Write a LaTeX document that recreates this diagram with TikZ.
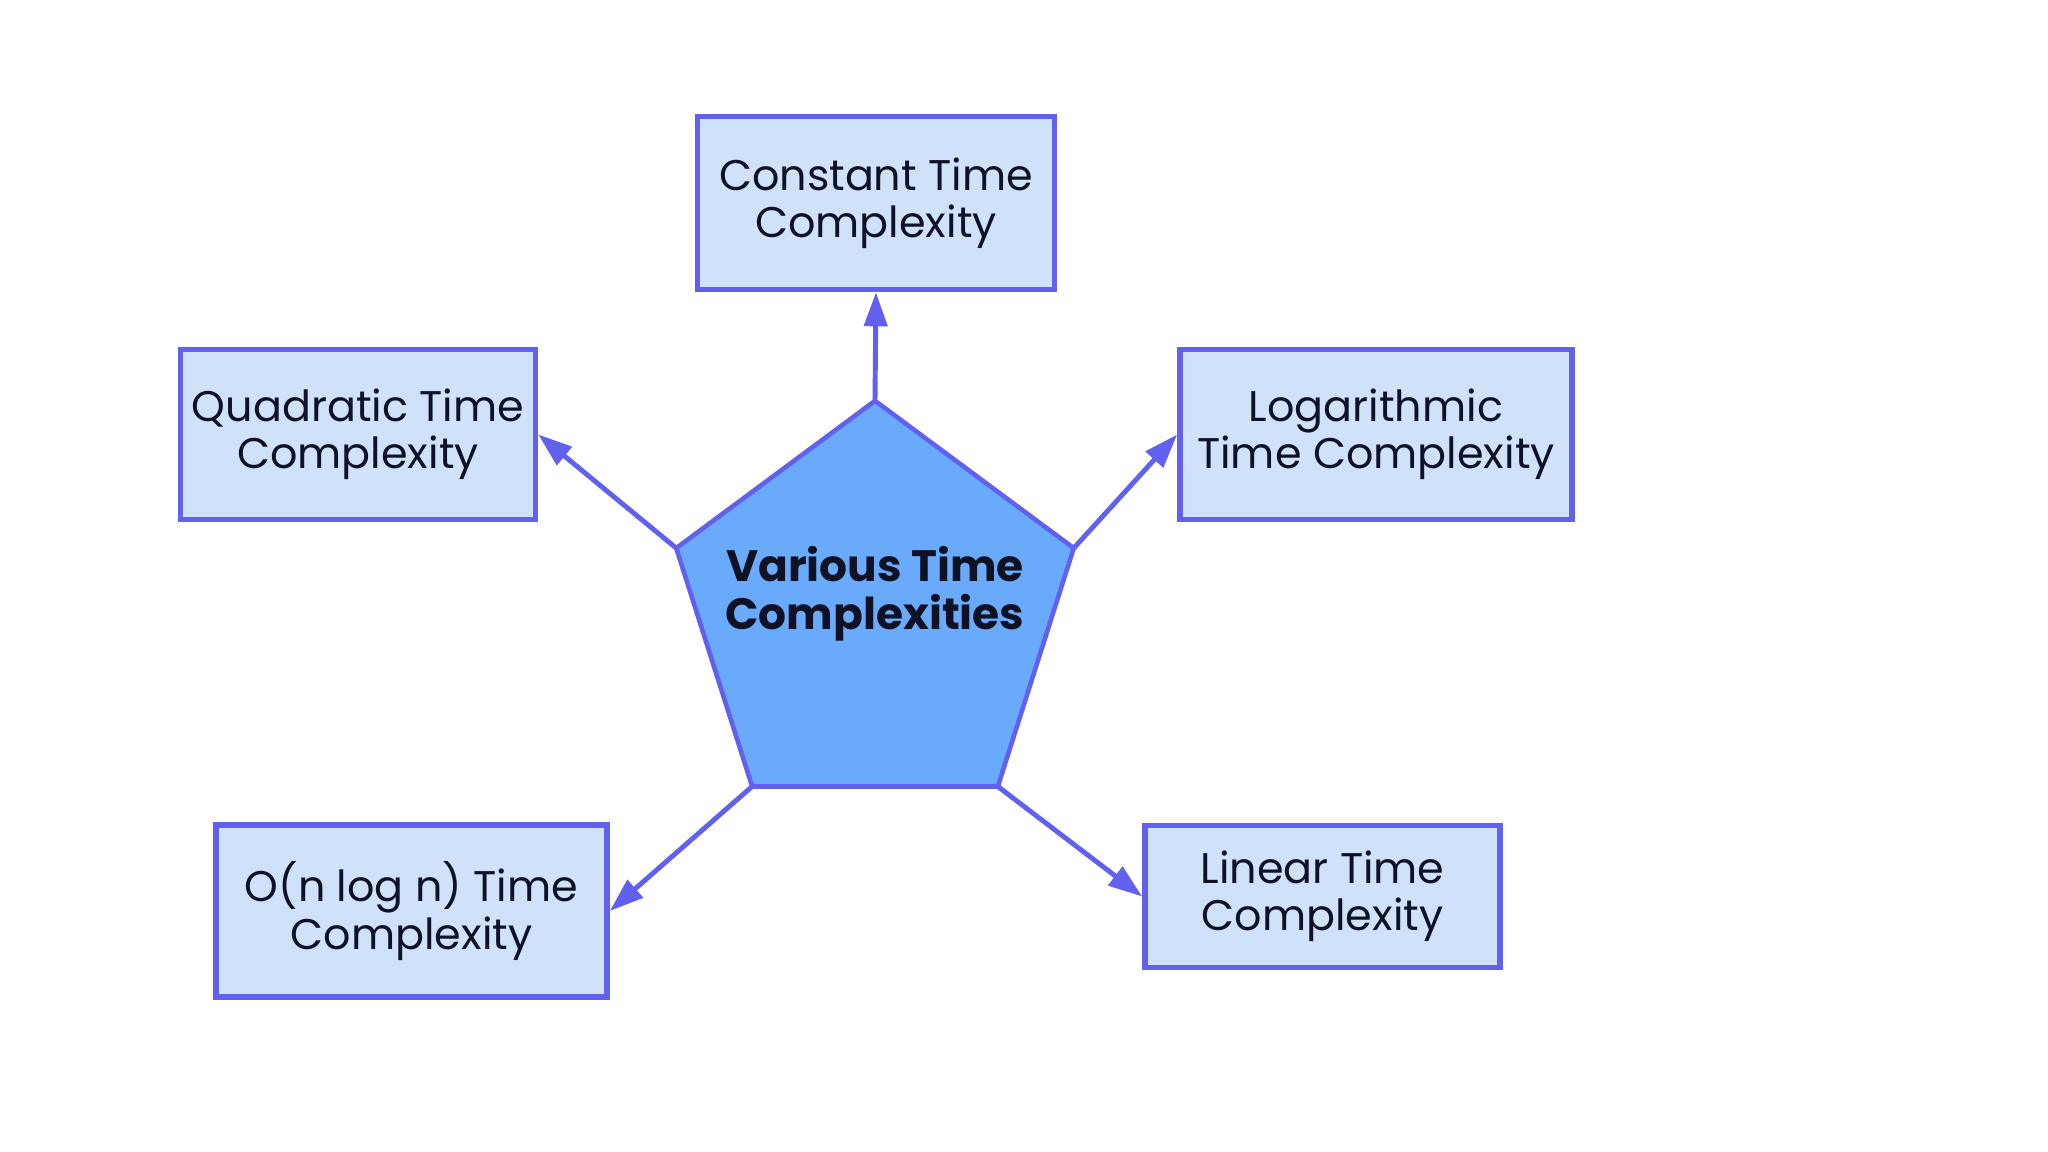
\documentclass[tikz,border=0pt]{standalone}
\usepackage{fontspec}
\setmainfont{Poppins}
\usepackage{tikz}
\usetikzlibrary{shapes,shapes.geometric,arrows.meta,positioning}

\definecolor{edgeblue}{RGB}{98,96,238}
\definecolor{boxfill}{RGB}{208,226,250}
\definecolor{pentfill}{RGB}{106,170,250}
\definecolor{inkdark}{RGB}{14,18,36}

\begin{document}
\begin{tikzpicture}[
  box/.style={rectangle,draw=edgeblue,fill=boxfill,line width=1.6pt,align=center,
    text=inkdark,font=\fontsize{12.2}{13.5}\selectfont,inner sep=0pt},
  pent/.style={regular polygon,regular polygon sides=5,draw=edgeblue,fill=pentfill,
    line width=1.3pt,minimum size=4.18cm,inner sep=0pt,outer sep=0pt,yscale=1.02},
  link/.style={draw=edgeblue,line width=1.4pt,-{Triangle[length=0.34cm,width=0.23cm]}}
]
\useasboundingbox (0,0) rectangle (20.48,-11.52);

\node[pent] (core) at (8.75,-6.14) {};
\node[align=center,text=inkdark,font=\fontsize{12.5}{13.6}\selectfont\bfseries] (coretitle) at (8.75,-5.94) {Various Time\\Complexities};

\node[box,minimum width=3.57cm,minimum height=1.73cm] (const) at (8.76,-2.03) {Constant Time\\Complexity};
\node[box,minimum width=3.55cm,minimum height=1.70cm] (quad) at (3.58,-4.345) {Quadratic Time\\Complexity};
\node[box,minimum width=3.92cm,minimum height=1.70cm] (loga) at (13.76,-4.345) {Logarithmic\\Time Complexity};
\node[box,minimum width=3.91cm,minimum height=1.72cm] (nlogn) at (4.115,-9.11) {O(n log n) Time\\Complexity};
\node[box,minimum width=3.55cm,minimum height=1.42cm] (lin) at (13.225,-8.965) {Linear Time\\Complexity};

\draw[link] (core.corner 1) -- (const.south);
\draw[link] (core.corner 2) -- (quad.east);
\draw[link] (core.corner 5) -- (loga.west);
\draw[link] (core.corner 3) -- (nlogn.east);
\draw[link] (core.corner 4) -- (lin.west);

\end{tikzpicture}
\end{document}
